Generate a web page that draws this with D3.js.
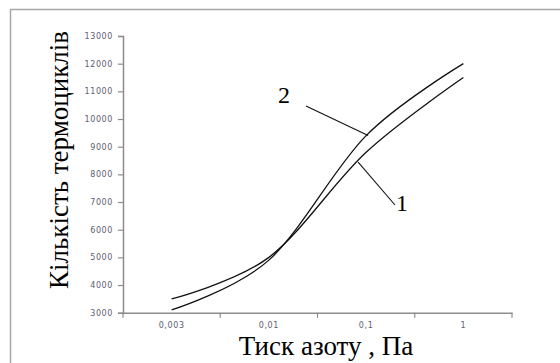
<!DOCTYPE html>
<html>
<head>
<meta charset="utf-8">
<script src="https://cdn.jsdelivr.net/npm/d3@7"></script>
<style>
  body { margin: 0; background: #fff; }
  svg { display: block; }
</style>
</head>
<body>
<svg id="chart" width="560" height="363"></svg>
<script>
// pressure categories (Pa) and cycle counts
var categories = ['0,003', '0,01', '0,1', '1'];
var series1 = [3500, 5000, 8800, 11500];
var series2 = [3100, 4900, 9400, 12000];
var yTicks = [3000, 4000, 5000, 6000, 7000, 8000, 9000, 10000, 11000, 12000, 13000];

var svg = d3.select('#chart');

// outer frame
svg.append('rect')
    .attr('x', 10.5).attr('y', 9.5)
    .attr('width', 560).attr('height', 360)
    .attr('fill', 'none')
    .attr('stroke', '#a6a6a6')
    .attr('stroke-width', 1.5);

var x = d3.scaleBand().domain(categories).range([123, 512]).padding(0);
var y = d3.scaleLinear().domain([3000, 13000]).range([312.7, 36]);
var cx = function(c){ return x(c) + x.bandwidth() / 2; };

// y axis
var yAxis = svg.append('g')
    .attr('transform', 'translate(123,0)')
    .call(d3.axisLeft(y).tickValues(yTicks).tickSize(5).tickPadding(5).tickFormat(d3.format('d')));
yAxis.select('.domain').attr('stroke', '#8c8c8c').attr('stroke-width', 1.5);
yAxis.selectAll('.tick line').attr('stroke', '#8c8c8c').attr('stroke-width', 1.2);
yAxis.selectAll('.tick text')
    .attr('fill', '#5d5d72')
    .style('font-family', 'DejaVu Sans')
    .style('font-size', '8px')
    .style('letter-spacing', '0.6px');

// x axis: labels in band centres, ticks on band edges
var xAxis = svg.append('g')
    .attr('transform', 'translate(0,312.7)')
    .call(d3.axisBottom(x).tickSize(0).tickPadding(10));
xAxis.select('.domain').attr('stroke', '#8c8c8c').attr('stroke-width', 1.5);
xAxis.selectAll('.tick text')
    .attr('fill', '#5d5d72')
    .style('font-family', 'DejaVu Sans')
    .style('font-size', '8px')
    .style('letter-spacing', '0.6px');
var edges = categories.map(function(c){ return x(c); }).concat([x(categories[3]) + x.bandwidth()]);
xAxis.selectAll('line.edge').data(edges).enter().append('line')
    .attr('class', 'edge')
    .attr('x1', function(d){ return d; }).attr('x2', function(d){ return d; })
    .attr('y1', 0).attr('y2', 5)
    .attr('stroke', '#8c8c8c').attr('stroke-width', 1.2);

// smoothed lines
var line = d3.line()
    .x(function(d, i){ return cx(categories[i]); })
    .y(function(d){ return y(d); })
    .curve(d3.curveCardinal.tension(0));

[series1, series2].forEach(function(s){
    svg.append('path')
        .attr('d', line(s))
        .attr('fill', 'none')
        .attr('stroke', '#111')
        .attr('stroke-width', 1.3);
});

// leaders and curve numbers
var p2 = [cx(categories[2]) + 2, y(series2[2])];
svg.append('line')
    .attr('x1', 306).attr('y1', 106)
    .attr('x2', p2[0]).attr('y2', p2[1])
    .attr('stroke', '#111').attr('stroke-width', 1.1);
svg.append('text')
    .attr('x', 278).attr('y', 103)
    .style('font-family', 'Liberation Serif')
    .style('font-size', '24px')
    .text('2');

var p1 = [cx(categories[2]) - 8, y(series1[2]) + 10];
svg.append('line')
    .attr('x1', p1[0]).attr('y1', p1[1])
    .attr('x2', 395).attr('y2', 205)
    .attr('stroke', '#111').attr('stroke-width', 1.1);
svg.append('text')
    .attr('x', 396).attr('y', 211)
    .style('font-family', 'Liberation Serif')
    .style('font-size', '24px')
    .text('1');

// axis titles
svg.append('text')
    .attr('transform', 'translate(68,160) rotate(-90)')
    .attr('text-anchor', 'middle')
    .style('font-family', 'Liberation Serif')
    .style('font-size', '27px')
    .text('Кількість термоциклів');

svg.append('text')
    .attr('x', 326).attr('y', 355)
    .attr('text-anchor', 'middle')
    .style('font-family', 'Liberation Serif')
    .style('font-size', '27px')
    .text('Тиск азоту , Па');
</script>
</body>
</html>
